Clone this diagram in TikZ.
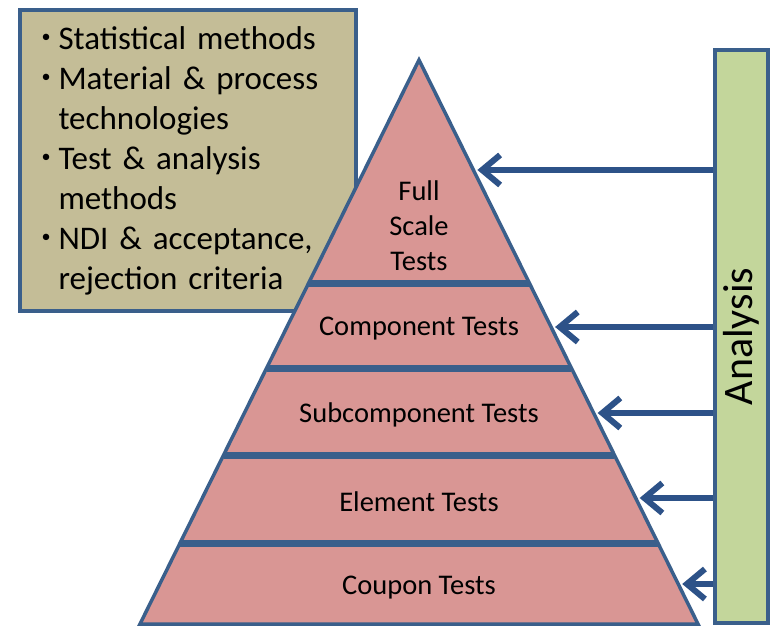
\documentclass[tikz,border=0pt]{standalone}
\usepackage{fontspec}
\setmainfont{Carlito}
\usetikzlibrary{arrows.meta,calc}
\definecolor{testblue}{HTML}{3A5F8B}
\definecolor{testarrow}{HTML}{2D5288}
\definecolor{testrose}{HTML}{D99694}
\definecolor{testtan}{HTML}{C4BD97}
\definecolor{testgreen}{HTML}{C3D69B}
\newcommand{\bulletitem}{\makebox[19pt][l]{\hspace{2pt}\raisebox{.2em}{\scalebox{.55}{\textbullet}}}}

\begin{document}
\begin{tikzpicture}[x=1pt,y=-1pt,
outline/.style={draw=testblue,line width=3.5pt},
level/.style={font=\fontsize{28.5}{35}\selectfont,align=center,inner sep=0pt},
feed/.style={draw=testarrow,line width=6pt,-{Straight Barb[length=18pt,width=30pt]},shorten >=4pt}]
\useasboundingbox (0,0) rectangle (778,628);
% methods list behind the pyramid
\node[outline,fill=testtan,minimum width=336pt,minimum height=301pt,text width=297pt,align=left,
  font=\fontsize{33}{40}\selectfont] (methods) at (188,160.5)
  {\bulletitem Statistical methods\\
   \bulletitem Material \& process\\
   \hspace*{19pt}technologies\\
   \bulletitem Test \& analysis\\
   \hspace*{19pt}methods\\
   \bulletitem NDI \& acceptance,\\
   \hspace*{19pt}rejection criteria};
% pyramid
\coordinate (apex) at (419,60);
\coordinate (baseL) at (140,624);
\coordinate (baseR) at (698,624);
\fill[testrose] (apex) -- (baseR) -- (baseL) -- cycle;
\foreach \f in {.3954,.5461,.7004,.8564}
  \draw[testblue,line width=7pt] ($(apex)!\f!(baseL)$) -- ($(apex)!\f!(baseR)$);
\draw[outline,line join=miter] (apex) -- (baseR) -- (baseL) -- cycle;
\node[level] (full) at (419,226) {Full\\Scale\\Tests};
\node[level] (component) at (419,329) {Component Tests};
\node[level] (subcomponent) at (419,415) {Subcomponent Tests};
\node[level] (element) at (419,502) {Element Tests};
\node[level] (coupon) at (419,588) {Coupon Tests};
% analysis bar and its arrows
\node[outline,fill=testgreen,rotate=90,minimum width=573pt,minimum height=53pt,
  font=\fontsize{42}{48}\selectfont] (analysis) at (741.5,336.5) {Analysis};
\foreach \f [count=\i] in {.1950,.4734,.6259,.7766,.9291}{
  \coordinate (tip\i) at ($(apex)!\f!(baseR)$);
  \draw[feed] (tip\i -| analysis.north) -- (tip\i);
}
\end{tikzpicture}
\end{document}
